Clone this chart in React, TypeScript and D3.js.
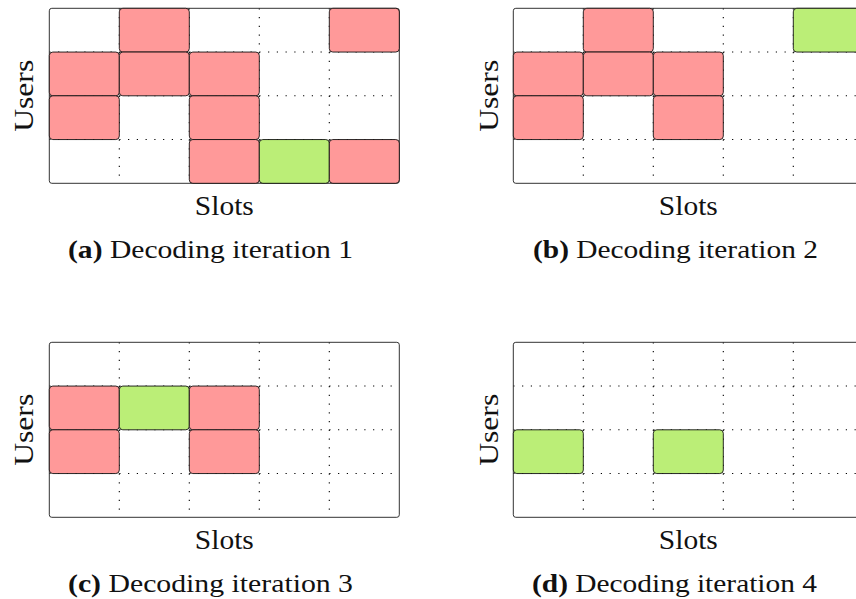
import React from "react";
import * as d3 from "d3";

const slots = [0, 1, 2, 3, 4];
const users = [0, 1, 2, 3];
const panelLabels = ["(a)", "(b)", "(c)", "(d)"];
const panelTitles = ["Decoding iteration 1", "Decoding iteration 2", "Decoding iteration 3", "Decoding iteration 4"];
// cell states per panel: [user row (0 = top), slot, state] ; state "c" collision, "s" singleton
const panelA: [number, number, string][] = [
  [0, 1, "c"], [0, 4, "c"],
  [1, 0, "c"], [1, 1, "c"], [1, 2, "c"],
  [2, 0, "c"], [2, 2, "c"],
  [3, 2, "c"], [3, 3, "s"], [3, 4, "c"],
];
const panelB: [number, number, string][] = [
  [0, 1, "c"], [0, 4, "s"],
  [1, 0, "c"], [1, 1, "c"], [1, 2, "c"],
  [2, 0, "c"], [2, 2, "c"],
];
const panelC: [number, number, string][] = [
  [1, 0, "c"], [1, 1, "s"], [1, 2, "c"],
  [2, 0, "c"], [2, 2, "c"],
];
const panelD: [number, number, string][] = [
  [2, 0, "s"], [2, 2, "s"],
];
const panelCells = [panelA, panelB, panelC, panelD];

const W = 856, H = 599;
const PW = 350, PH = 175;
const origins = [
  [49.3, 8.3],
  [513.3, 8.3],
  [49.3, 342.3],
  [513.3, 342.3],
];
const captionX = [68, 533, 68, 532];
const FONT = "Liberation Serif, Times New Roman, Times, serif";
const fillColor: Record<string, string> = { c: "#ff9999", s: "#bbee77" };

function Panel({ idx }: { idx: number }) {
  const [x0, y0] = origins[idx];
  const x = d3.scaleLinear().domain([0, slots.length]).range([x0, x0 + PW]);
  const y = d3.scaleLinear().domain([0, users.length]).range([y0, y0 + PH]);
  const cells = panelCells[idx];
  const right = idx % 2 === 1;
  const usersX = right ? 498 : 33;
  const cy = y0 + PH / 2;
  return (
    <g>
      {d3.range(1, slots.length).map((s) => (
        <line key={"v" + s} x1={x(s)} x2={x(s)} y1={y(0)} y2={y(users.length)}
          stroke="#000" strokeWidth={1.1} strokeDasharray="1.2,7.55" />
      ))}
      {d3.range(1, users.length).map((u) => (
        <line key={"h" + u} x1={x(0)} x2={x(slots.length)} y1={y(u)} y2={y(u)}
          stroke="#000" strokeWidth={1.1} strokeDasharray="1.2,7.55" />
      ))}
      <rect x={x(0)} y={y(0)} width={PW} height={PH} rx={2.5} fill="none" stroke="#333" strokeWidth={1} />
      {cells.map(([u, s, st], i) => (
        <rect key={i} x={x(s)} y={y(u)} width={x(s + 1) - x(s)} height={y(u + 1) - y(u)}
          rx={3.5} fill={fillColor[st]} stroke="#111" strokeWidth={0.9} />
      ))}
      <text x={x0 + PW / 2} y={y0 + PH + 32} textAnchor="middle" fontFamily={FONT} fontSize={27}
        textLength={59} lengthAdjust="spacingAndGlyphs" fill="#111">Slots</text>
      <text transform={`translate(${usersX},${cy}) rotate(-90)`} textAnchor="middle" fontFamily={FONT}
        fontSize={27} textLength={72} lengthAdjust="spacingAndGlyphs" fill="#111">Users</text>
      <text x={captionX[idx]} y={y0 + PH + 75} fontFamily={FONT} fontSize={26} fill="#111"
        textLength={285} lengthAdjust="spacingAndGlyphs">
        <tspan fontWeight="bold">{panelLabels[idx]}</tspan>
        <tspan> {panelTitles[idx]}</tspan>
      </text>
    </g>
  );
}

export default function App() {
  return (
    <svg width={W} height={H} style={{ position: "absolute", left: 0, top: 0, background: "#fff" }}>
      {panelLabels.map((_, i) => (
        <Panel key={i} idx={i} />
      ))}
    </svg>
  );
}
